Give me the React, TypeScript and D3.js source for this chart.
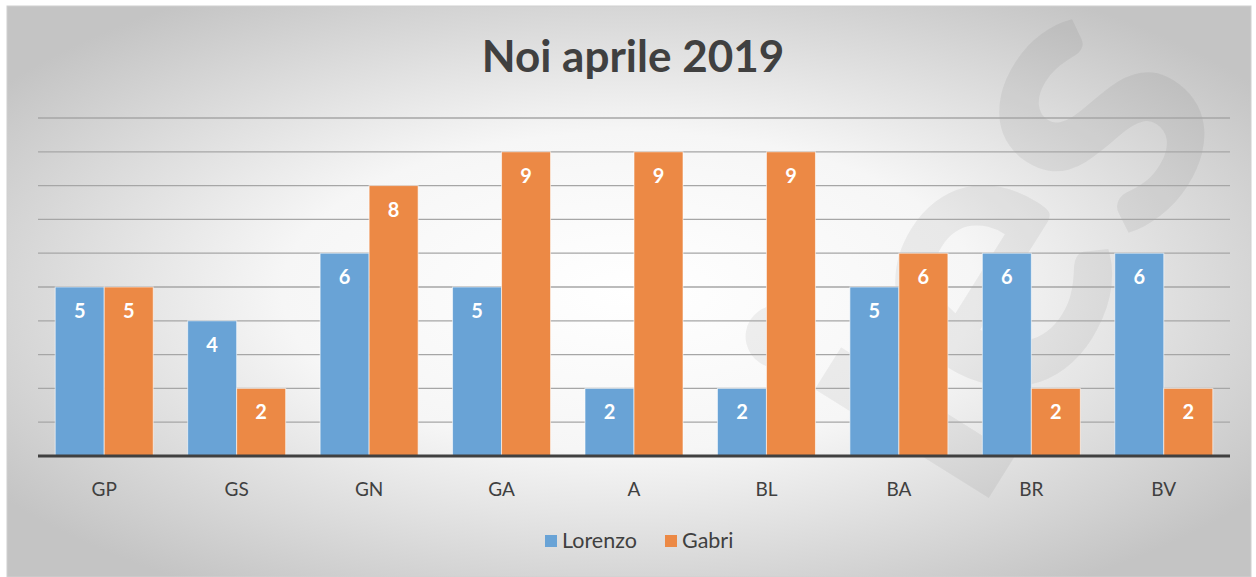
import React from 'react'
import * as d3 from 'd3'

const categories = ['GP', 'GS', 'GN', 'GA', 'A', 'BL', 'BA', 'BR', 'BV']
const lorenzo = [5, 4, 6, 5, 2, 2, 5, 6, 6]
const gabri = [5, 2, 8, 9, 9, 9, 6, 2, 2]
const seriesNames = ['Lorenzo', 'Gabri']
const seriesColors = ['#69a3d6', '#ec8945']

const width = 1256
const height = 577
const margin = { top: 118, right: 26, bottom: 121, left: 38 }
const font = 'Lato, "Open Sans", sans-serif'

const App = () => {
  const x0 = d3
    .scaleBand()
    .domain(categories)
    .range([margin.left, width - margin.right])
    .paddingInner(0.26)
    .paddingOuter(0.13)
  const x1 = d3.scaleBand().domain(seriesNames).range([0, x0.bandwidth()]).padding(0)
  const y = d3.scaleLinear().domain([0, 10]).range([height - margin.bottom, margin.top])

  const rows = categories.map((c, i) => ({ cat: c, vals: [lorenzo[i], gabri[i]] }))

  return (
    <svg
      width={width}
      height={height}
      style={{ position: 'absolute', left: 0, top: 0 }}
    >
      <defs>
        <radialGradient id="bg" cx="0.5" cy="0.5" r="0.62">
          <stop offset="0" stopColor="#ffffff" />
          <stop offset="0.45" stopColor="#f6f6f6" />
          <stop offset="1" stopColor="#c4c4c4" />
        </radialGradient>
        <clipPath id="panel">
          <rect x={7} y={6} width={width - 12} height={height - 6} />
        </clipPath>
      </defs>
      <rect x={0} y={0} width={width} height={height} fill="#fff" />
      <rect x={7} y={6} width={width - 12} height={height - 6} fill="url(#bg)" stroke="#d0d0d0" />

      {/* watermark */}
      <g clipPath="url(#panel)">
        <text
          transform="translate(975,520) rotate(-58)"
          fontFamily={font}
          fontWeight="bold"
          fontSize={400}
          fill="#000"
          fillOpacity={0.055}
        >
          ies
        </text>
      </g>

      <text
        x={633}
        y={72}
        textAnchor="middle"
        fontFamily={font}
        fontWeight="bold"
        fontSize={44}
        fill="#404040"
      >
        Noi aprile 2019
      </text>

      {y.ticks(10).map((t) => (
        <line
          key={t}
          x1={margin.left}
          x2={width - margin.right}
          y1={y(t)}
          y2={y(t)}
          stroke="#a6a6a6"
          strokeWidth={1.3}
        />
      ))}

      {rows.map((r) => (
        <g key={r.cat} transform={`translate(${x0(r.cat)},0)`}>
          {r.vals.map((v, j) => {
            const bx = x1(seriesNames[j])
            return (
              <g key={j}>
                <rect
                  x={bx}
                  y={y(v)}
                  width={x1.bandwidth()}
                  height={y(0) - y(v)}
                  fill={seriesColors[j]}
                  stroke="#ffffff"
                  strokeOpacity={0.6}
                  strokeWidth={1}
                />
                <text
                  x={bx + x1.bandwidth() / 2}
                  y={y(v) + 31}
                  textAnchor="middle"
                  fontFamily={font}
                  fontWeight="bold"
                  fontSize={20}
                  fill="#ffffff"
                >
                  {v}
                </text>
              </g>
            )
          })}
          <text
            x={x0.bandwidth() / 2}
            y={496}
            textAnchor="middle"
            fontFamily={font}
            fontSize={19}
            fill="#404040"
          >
            {r.cat}
          </text>
        </g>
      ))}

      <line
        x1={margin.left}
        x2={width - margin.right}
        y1={y(0)}
        y2={y(0)}
        stroke="#404040"
        strokeWidth={3}
      />

      <g transform="translate(545,541)">
        <rect x={0} y={-6} width={12} height={12} fill={seriesColors[0]} />
        <text x={17} y={7} fontFamily={font} fontSize={21.5} fill="#404040">
          Lorenzo
        </text>
        <rect x={120} y={-6} width={12} height={12} fill={seriesColors[1]} />
        <text x={137} y={7} fontFamily={font} fontSize={21.5} fill="#404040">
          Gabri
        </text>
      </g>
    </svg>
  )
}

export default App
